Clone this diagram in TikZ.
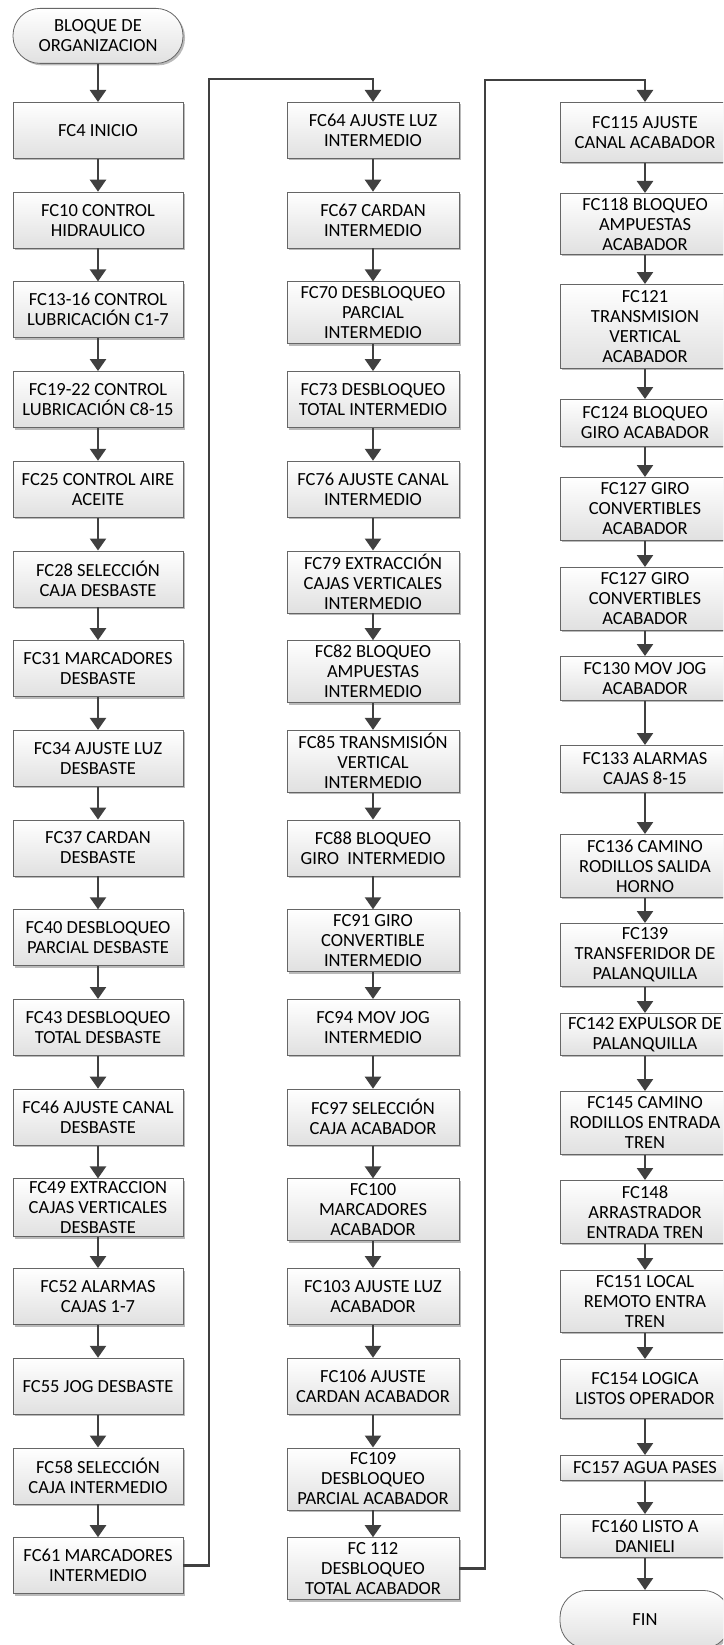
\documentclass[tikz,border=0pt]{standalone}
\usepackage{fontspec}
\setmainfont{Carlito}
\usetikzlibrary{arrows.meta,shadows}
\begin{document}
\begin{tikzpicture}[x=1pt,y=-1pt,
  box/.style={draw=black!60, line width=0.8pt, top color=white, bottom color=black!12,
    minimum width=170pt, inner sep=0pt, align=center, anchor=north,
    font=\fontsize{18.5}{20}\selectfont,
    drop shadow={shadow xshift=2pt, shadow yshift=-2pt, fill=black!45, opacity=0.6}},
  term/.style={box, rounded corners=27pt},
  arr/.style={draw=black!75, line width=2.4pt, -{Triangle[length=12pt,width=16pt]}},
]
\clip (0,0) rectangle (723,1645);
% column 1
\node[term, minimum height=55pt] (t0) at (98,8) {BLOQUE DE\\ORGANIZACION};
\node[box, minimum height=56pt] (a1) at (98,102) {FC4 INICIO};
\node[box, minimum height=56pt] (a2) at (98,191.7) {FC10 CONTROL\\HIDRAULICO};
\node[box, minimum height=56pt] (a3) at (98,281.4) {FC13-16 CONTROL\\LUBRICACIÓN C1-7};
\node[box, minimum height=56pt] (a4) at (98,371.1) {FC19-22 CONTROL\\LUBRICACIÓN C8-15};
\node[box, minimum height=56pt] (a5) at (98,460.8) {FC25 CONTROL AIRE\\ACEITE};
\node[box, minimum height=56pt] (a6) at (98,550.5) {FC28 SELECCIÓN\\CAJA DESBASTE};
\node[box, minimum height=56pt] (a7) at (98,640.2) {FC31 MARCADORES\\DESBASTE};
\node[box, minimum height=56pt] (a8) at (98,729.9) {FC34 AJUSTE LUZ\\DESBASTE};
\node[box, minimum height=56pt] (a9) at (98,819.6) {FC37 CARDAN\\DESBASTE};
\node[box, minimum height=56pt] (a10) at (98,909.3) {FC40 DESBLOQUEO\\PARCIAL DESBASTE};
\node[box, minimum height=56pt] (a11) at (98,999) {FC43 DESBLOQUEO\\TOTAL DESBASTE};
\node[box, minimum height=56pt] (a12) at (98,1088.7) {FC46 AJUSTE CANAL\\DESBASTE};
\node[box, minimum height=58pt] (a13) at (98,1178.4) {FC49 EXTRACCION\\CAJAS VERTICALES\\DESBASTE};
\node[box, minimum height=56pt] (a14) at (98,1268.1) {FC52 ALARMAS\\CAJAS 1-7};
\node[box, minimum height=56pt] (a15) at (98,1357.8) {FC55 JOG DESBASTE};
\node[box, minimum height=56pt] (a16) at (98,1447.5) {FC58 SELECCIÓN\\CAJA INTERMEDIO};
\node[box, minimum height=56pt] (a17) at (98,1537.2) {FC61 MARCADORES\\INTERMEDIO};
% column 2
\node[box, minimum width=172pt, minimum height=56pt] (b1) at (373,102) {FC64 AJUSTE LUZ\\INTERMEDIO};
\node[box, minimum width=172pt, minimum height=56pt] (b2) at (373,191.7) {FC67 CARDAN\\INTERMEDIO};
\node[box, minimum width=172pt, minimum height=62pt] (b3) at (373,281.4) {FC70 DESBLOQUEO\\PARCIAL\\INTERMEDIO};
\node[box, minimum width=172pt, minimum height=56pt] (b4) at (373,371.1) {FC73 DESBLOQUEO\\TOTAL INTERMEDIO};
\node[box, minimum width=172pt, minimum height=56pt] (b5) at (373,460.8) {FC76 AJUSTE CANAL\\INTERMEDIO};
\node[box, minimum width=172pt, minimum height=62pt] (b6) at (373,550.5) {FC79 EXTRACCIÓN\\CAJAS VERTICALES\\INTERMEDIO};
\node[box, minimum width=172pt, minimum height=62pt] (b7) at (373,640.2) {FC82 BLOQUEO\\AMPUESTAS\\INTERMEDIO};
\node[box, minimum width=172pt, minimum height=62pt] (b8) at (373,729.9) {FC85 TRANSMISIÓN\\VERTICAL\\INTERMEDIO};
\node[box, minimum width=172pt, minimum height=56pt] (b9) at (373,819.6) {FC88 BLOQUEO\\GIRO\ \ INTERMEDIO};
\node[box, minimum width=172pt, minimum height=62pt] (b10) at (373,909.3) {FC91 GIRO\\CONVERTIBLE\\INTERMEDIO};
\node[box, minimum width=172pt, minimum height=56pt] (b11) at (373,999) {FC94 MOV JOG\\INTERMEDIO};
\node[box, minimum width=172pt, minimum height=56pt] (b12) at (373,1088.7) {FC97 SELECCIÓN\\CAJA ACABADOR};
\node[box, minimum width=172pt, minimum height=62pt] (b13) at (373,1178.4) {FC100\\MARCADORES\\ACABADOR};
\node[box, minimum width=172pt, minimum height=56pt] (b14) at (373,1268.1) {FC103 AJUSTE LUZ\\ACABADOR};
\node[box, minimum width=172pt, minimum height=56pt] (b15) at (373,1357.8) {FC106 AJUSTE\\CARDAN ACABADOR};
\node[box, minimum width=172pt, minimum height=62pt] (b16) at (373,1447.5) {FC109\\DESBLOQUEO\\PARCIAL ACABADOR};
\node[box, minimum width=172pt, minimum height=62pt] (b17) at (373,1537.2) {FC 112\\DESBLOQUEO\\TOTAL ACABADOR};
% column 3
\node[box, minimum height=60pt] (c1) at (645,102) {FC115 AJUSTE\\CANAL ACABADOR};
\node[box, minimum height=61pt] (c2) at (645,193) {FC118 BLOQUEO\\AMPUESTAS\\ACABADOR};
\node[box, minimum height=84pt] (c3) at (645,284) {FC121\\TRANSMISION\\VERTICAL\\ACABADOR};
\node[box, minimum height=47pt] (c4) at (645,399) {FC124 BLOQUEO\\GIRO ACABADOR};
\node[box, minimum height=63pt] (c5) at (645,477) {FC127 GIRO\\CONVERTIBLES\\ACABADOR};
\node[box, minimum height=63pt] (c6) at (645,567) {FC127 GIRO\\CONVERTIBLES\\ACABADOR};
\node[box, minimum height=44pt] (c7) at (645,656) {FC130 MOV JOG\\ACABADOR};
\node[box, minimum height=47pt] (c8) at (645,745) {FC133 ALARMAS\\CAJAS 8-15};
\node[box, minimum height=63pt] (c9) at (645,834) {FC136 CAMINO\\RODILLOS SALIDA\\HORNO};
\node[box, minimum height=63pt] (c10) at (645,923) {FC139\\TRANSFERIDOR DE\\PALANQUILLA};
\node[box, minimum height=42pt] (c11) at (645,1013) {FC142 EXPULSOR DE\\PALANQUILLA};
\node[box, minimum height=63pt] (c12) at (645,1091) {FC145 CAMINO\\RODILLOS ENTRADA\\TREN};
\node[box, minimum height=63pt] (c13) at (645,1180) {FC148\\ARRASTRADOR\\ENTRADA TREN};
\node[box, minimum height=62pt] (c14) at (645,1270) {FC151 LOCAL\\REMOTO ENTRA\\TREN};
\node[box, minimum height=59pt] (c15) at (645,1359) {FC154 LOGICA\\LISTOS OPERADOR};
\node[box, minimum height=25pt] (c16) at (645,1455) {FC157 AGUA PASES};
\node[box, minimum height=43pt] (c17) at (645,1514) {FC160 LISTO A\\DANIELI};
\node[term, minimum height=58pt] (c18) at (645,1590) {FIN};
% connectors
\draw[arr] (t0) -- (a1);
\foreach \i [evaluate=\i as \j using int(\i+1)] in {1,...,16} {
  \draw[arr] (a\i) -- (a\j);
  \draw[arr] (b\i) -- (b\j);
}
\foreach \i [evaluate=\i as \j using int(\i+1)] in {1,...,17} {
  \draw[arr] (c\i) -- (c\j);
}
\coordinate (j1) at (209,79);
\coordinate (j2) at (485,80);
\draw[arr] (a17.east) -| (j1) -| (b1.north);
\draw[arr] (b17.east) -| (j2) -| (c1.north);
\end{tikzpicture}
\end{document}
